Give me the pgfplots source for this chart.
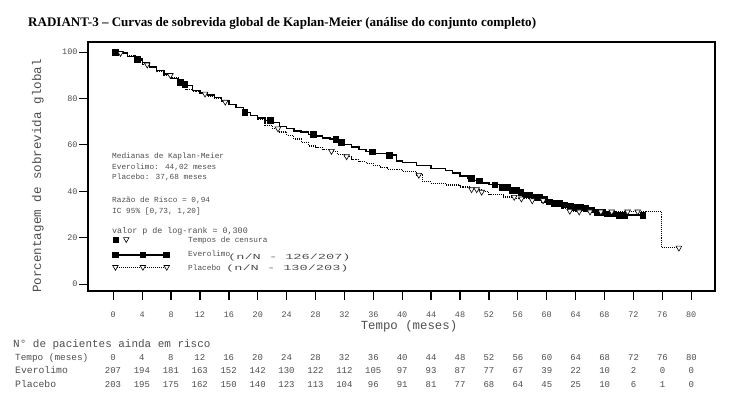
\documentclass[border=0pt]{standalone}
\usepackage{fontspec}
\setmainfont{Liberation Serif}
\newfontfamily\cour{Liberation Mono}
\usepackage{pgfplots}
\pgfplotsset{compat=1.18}
\definecolor{txtgray}{HTML}{4E4E4E}

\pgfplotstableread{
t S
0 100
1 99.5
2 98
3 97
4 95.5
5 93.5
6 92
7 90.5
8 88.5
9 87
10 85.5
11 83.5
12 82.5
13 81.5
14 80.5
15 79
16 77.5
17 76
18 74
19 72.5
20 71.5
21 70.5
22 69.5
23 68
24 67
25 66
26 65.5
27 64.5
28 63.8
29 63
30 62.5
31 61
32 60
33 59
34 58
35 57
36 56.2
38 55.6
39.2 53
40 52.5
42 51
44 49.8
46 48.8
47 47.8
48 46.5
49 45.5
50 44.5
51 43.5
52 42.8
53.5 41.8
55 40.5
56 39.5
57 38.5
58 37.5
59 36.5
60 35.5
61 35
62 34.2
63 33.8
64 33.2
65 32.8
66 32
67 31
68 30.3
70 29.8
73.3 29.8
}\evero

\pgfplotstableread{
t S
0 100
1 99.5
2 98.5
3 96.5
4 94.5
5 93.5
6 91.5
7 90
8 89
9 86.5
10 84
11 83
12 82
13 81
14 80
15 78.5
16 77.5
17 76
18 74
19 72.5
20 71
21 68.5
22 67
23 65.5
24 64
25 62.5
26 61
27 59.5
28 58.8
29 58
30 57.3
31 56
32 55
33 53.5
34 52.8
35 52
36 51
37 50.3
38 49.5
40 48.5
42 47
42.8 44
44 43.5
46 42.7
48 41.8
49.5 40.8
51 39.7
52 38.5
54 37.5
55.5 36.8
58 36
60 35
61 34
62 32.5
63 31.5
64 31.2
75.9 15.6
78.3 15.6
}\placebo

\pgfplotstableread{
t S
0.3 100
3.3 97
9.3 87
9.9 86
18.2 74
21.7 70.5
27.7 64.5
30.8 62.5
31.5 61
35.8 57
38.2 55.6
49.6 45.5
50.6 44.5
52.8 42.8
53.8 41.8
54.5 41.8
55.2 40.5
55.8 40.5
56.4 39.5
57 38.5
57.6 38.5
58.3 37.5
59 37.5
59.6 36.5
60.3 35.5
61 35
61.7 35
62.4 34.2
63.2 33.8
64 33.2
64.7 33.2
65.4 32.8
66.2 32
67 31
67.7 31
68.4 30.3
69.2 30.3
70 29.8
70.8 29.8
73.3 29.8
}\everocens

\pgfplotstableread{
t S
1 99.5
4.7 94.5
7.9 90
12.7 82
15.5 78.5
22.8 67
30.2 57.3
32.3 55
42.3 47
49.6 40.8
50.3 40.8
51 39.7
55.5 37.5
56.5 36.8
58 36
59.5 36
63.2 31.5
64.5 31.2
66 31.2
67.5 31.2
69 31.2
71.2 31.2
72.6 31.2
78.3 15.6
}\placens

\begin{document}
\begin{tikzpicture}[x=1bp,y=1bp]
\path[use as bounding box] (0,0) rectangle (732,-397);
\node[anchor=base west, inner sep=0pt, font=\fontsize{13.1}{15}\selectfont\bfseries] at (28,-26) {RADIANT-3 – Curvas de sobrevida global de Kaplan-Meier (análise do conjunto completo)};
\begin{axis}[
  at={(88bp,-291bp)}, anchor=south west, scale only axis,
  width=627bp, height=249bp,
  xmin=-3.5, xmax=83.3, ymin=-3, ymax=104.3,
  xtick={0,4,...,80}, ytick={0,20,...,100},
  tick pos=left, tick align=outside,
  major tick length=9bp,
  axis line style={line width=1.5bp},
  xtick style={draw=black, line width=1.3bp},
  ytick style={draw=black, line width=0.8bp},
  ticklabel style={font=\cour\fontsize{8.5}{10}\selectfont, text=txtgray},
  /pgf/number format/assume math mode=true,
  xticklabel style={yshift=-8bp},
  yticklabel style={xshift=2bp},
  clip=false,
]
\addplot[const plot, black, line width=1.3bp] table {\evero};
\addplot[const plot, black, line width=1.1bp, densely dotted] table {\placebo};
\addplot[only marks, mark=square*, mark size=2.9bp, black] table {\everocens};
\addplot[only marks, mark=triangle*, mark size=3.3bp, mark options={rotate=180, fill=white, draw=black, line width=0.6bp}] table {\placens};
% legend samples
\addplot[black, line width=1.2bp, mark=square*, mark size=2.8bp] coordinates {(0.3,12.5) (4.1,12.5) (7.4,12.5)};
\addplot[black, line width=1bp, densely dotted, mark=triangle*, mark size=3.2bp, mark options={solid, rotate=180, fill=white, draw=black, line width=0.6bp}] coordinates {(0.3,7.3) (4.1,7.3) (7.4,7.3)};
\addplot[only marks, black, mark=square*, mark size=2.5bp] coordinates {(0.3,19)};
\addplot[only marks, mark=triangle*, mark size=3.2bp, mark options={rotate=180, fill=white, draw=black, line width=0.6bp}] coordinates {(1.8,19.3)};
% x tick marks below the frame
\pgfplotsinvokeforeach{0,4,...,80}{
  \draw[black, line width=1.3bp] (axis cs:#1,-3) -- ++(0bp,-9bp);
}
\end{axis}
% axis labels
\node[font=\cour\fontsize{12.4}{14}\selectfont, text=txtgray] at (409,-326) {Tempo (meses)};
\node[rotate=90, font=\cour\fontsize{12.6}{14}\selectfont, text=txtgray] at (38,-176) {Porcentagem de sobrevida global};
% annotations
\begin{scope}[every node/.style={anchor=west, inner sep=0pt, text=txtgray, font=\cour\fontsize{7.8}{9}\selectfont}]
\node at (112,-156) {Medianas de Kaplan-Meier};
\node at (112,-167) {Everolimo: 44,02 meses};
\node at (112,-177) {Placebo: 37,68 meses};
\node at (112,-200) {Razão de Risco = 0,94};
\node at (112,-211) {IC 95\% [0,73, 1,20]};
\node[font=\cour\fontsize{8.4}{9}\selectfont] at (112,-231) {valor p de log-rank = 0,300};
\node at (188,-240) {Tempos de censura};
\node at (188,-254) {Everolimo};
\node at (228,-257) {\scalebox{1.75}[1]{\fontsize{7.8}{9}\selectfont (n/N - 126/207)}};
\node at (188,-268) {Placebo};
\node at (226,-268) {\scalebox{1.75}[1]{\fontsize{7.8}{9}\selectfont (n/N - 130/203)}};
\end{scope}
% risk table
\begin{scope}[every node/.style={inner sep=0pt, text=txtgray}]
\node[anchor=base west, font=\cour\fontsize{11}{12}\selectfont] at (13,-347) {N° de pacientes ainda em risco};
\node[anchor=base west, font=\cour\fontsize{9.4}{11}\selectfont] at (15,-360.5) {Tempo (meses)};
\node[anchor=base west, font=\cour\fontsize{9.8}{11}\selectfont] at (15,-373.5) {Everolimo};
\node[anchor=base west, font=\cour\fontsize{9.8}{11}\selectfont] at (15,-387.5) {Placebo};
\foreach \t/\e/\p in {0/207/203,4/194/195,8/181/175,12/163/162,16/152/150,20/142/140,24/130/123,28/122/113,32/112/104,36/105/96,40/97/91,44/93/81,48/87/77,52/77/68,56/67/64,60/39/45,64/22/25,68/10/10,72/2/6,76/0/1,80/0/0}{
  \pgfmathsetmacro{\xx}{113+7.23*\t}
  \node[anchor=base, font=\cour\fontsize{9}{10}\selectfont] at (\xx,-360.5) {\t};
  \node[anchor=base, font=\cour\fontsize{9}{10}\selectfont] at (\xx,-373.5) {\e};
  \node[anchor=base, font=\cour\fontsize{9}{10}\selectfont] at (\xx,-387.5) {\p};
}
\end{scope}
\end{tikzpicture}
\end{document}
